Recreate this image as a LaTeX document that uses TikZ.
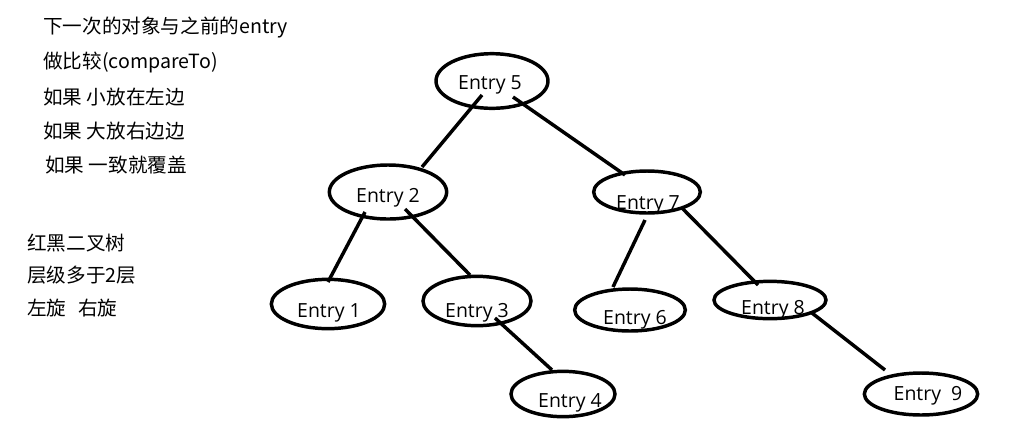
\documentclass[tikz,border=0pt]{standalone}
\usepackage{fontspec}
\usetikzlibrary{shapes.geometric,calc}
\newfontfamily\cjk{Noto Sans CJK SC}
\newfontfamily\entryfont{Open Sans}
\tikzset{
  entry/.style={draw, ellipse, line width=2.6pt, inner sep=0pt},
  lbl/.style={font=\entryfont\fontsize{14.6}{17}\selectfont, anchor=base, inner sep=0pt},
  note/.style={font=\cjk\fontsize{14.7}{17}\selectfont, anchor=west, inner sep=0pt},
  edge/.style={line width=2.6pt}
}
\begin{document}
\begin{tikzpicture}[x=0.75pt, y=-0.75pt]
\useasboundingbox (0,0) rectangle (1017,437);
% notes
\node[note] (n1) at (43,28) {下一次的对象与之前的entry};
\node[note] (n2) at (43,62) {做比较(compareTo)};
\node[note] (n3) at (43,97) {如果 小放在左边};
\node[note] (n4) at (43,131) {如果 大放右边边};
\node[note] (n5) at (45,165) {如果 一致就覆盖};
\node[note] (m1) at (27,243) {红黑二叉树};
\node[note] (m2) at (27,275) {层级多于2层};
\node[note] (m3) at (27,308) {左旋\hspace{0.6em}右旋};
% ellipses
\node[entry, minimum width=84pt, minimum height=41pt] (e5) at (492,81) {};
\node[entry, minimum width=88pt, minimum height=40.5pt] (e2) at (388,192) {};
\node[entry, minimum width=80pt, minimum height=31.5pt] (e7) at (647,192) {};
\node[entry, minimum width=85pt, minimum height=37pt] (e1) at (328,304) {};
\node[entry, minimum width=81pt, minimum height=37pt] (e3) at (477,301) {};
\node[entry, minimum width=83pt, minimum height=31.5pt] (e6) at (630,310) {};
\node[entry, minimum width=78pt, minimum height=34pt] (e4) at (563,394) {};
\node[entry, minimum width=84pt, minimum height=28pt] (e8) at (770,300) {};
\node[entry, minimum width=85pt, minimum height=31.5pt] (e9) at (921,394) {};
% labels
\node[lbl] (t5) at (490,89) {Entry 5};
\node[lbl] (t2) at (388,202) {Entry 2};
\node[lbl] (t7) at (648,209) {Entry 7};
\node[lbl] (t1) at (329,317) {Entry 1};
\node[lbl] (t3) at (477,317) {Entry 3};
\node[lbl] (t6) at (635,324) {Entry 6};
\node[lbl] (t4) at (570,407) {Entry 4};
\node[lbl] (t8) at (773,314) {Entry 8};
\node[lbl] (t9) at (928,400) {Entry\ \ 9};
% connectors
\draw[edge] ($(e5)+(-10,14)$) -- ($(e2)+(34,-25)$);
\draw[edge] ($(e5)+(21,16)$) -- ($(e7)+(-22,-17)$);
\draw[edge] ($(e2)+(-23,20)$) -- ($(e1)+(0,-22)$);
\draw[edge] ($(e2)+(17,17)$) -- ($(e3)+(-7,-26)$);
\draw[edge] ($(e3)+(18,17)$) -- ($(e4)+(-11,-24)$);
\draw[edge] ($(e7)+(-2,28)$) -- ($(e6)+(-17,-23)$);
\draw[edge] ($(e7)+(35,16)$) -- ($(e8)+(-12,-15)$);
\draw[edge] ($(e8)+(42,13)$) -- ($(e9)+(-36,-24)$);
\end{tikzpicture}
\end{document}
